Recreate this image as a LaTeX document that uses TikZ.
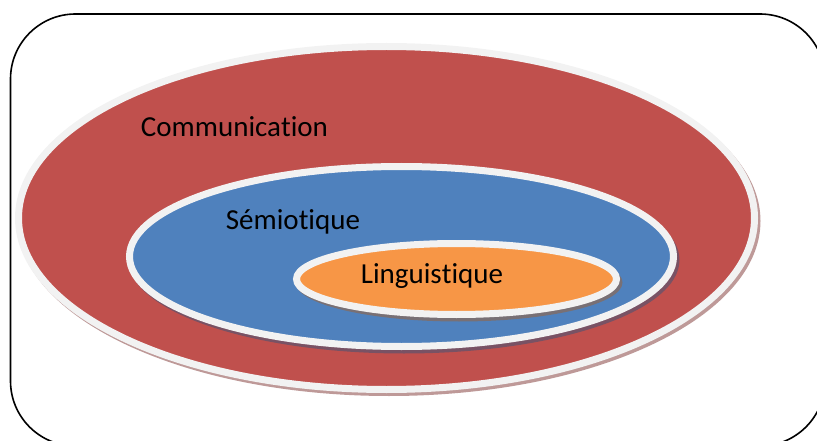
\documentclass[tikz,border=0pt]{standalone}
\usepackage{fontspec}
\setmainfont[RawFeature={-liga;-calt;-clig}]{Carlito}
\definecolor{cred}{HTML}{C0504D}
\definecolor{cblue}{HTML}{4F81BD}
\definecolor{corange}{HTML}{F79646}
\definecolor{crim}{HTML}{F2F2F2}
\tikzset{
  rim/.style={draw=crim, line width=7pt},
  shade/.style={fill=#1!65!black, opacity=0.5},
  lbl/.style={font=\fontsize{29}{34}\selectfont, text=black, inner sep=0pt}
}
\begin{document}
\begin{tikzpicture}[x=1pt,y=-1pt]
\useasboundingbox (0,0) rectangle (817,441);
\draw[line width=1.6pt, rounded corners=65pt] (10.5,14) rectangle (825,446);
% Communication
\fill[shade=cred] (389,221) ellipse [x radius=371.5, y radius=175];
\draw[rim, fill=cred] (386.5,218) ellipse [x radius=368, y radius=171.5];
% Semiotique
\fill[shade=cblue] (404,260) ellipse [x radius=275.5, y radius=93.5];
\draw[rim, fill=cblue] (401.5,256.5) ellipse [x radius=272, y radius=90];
% Linguistique
\fill[shade=corange] (459,282.5) ellipse [x radius=163.5, y radius=39];
\draw[rim, fill=corange] (456.5,279) ellipse [x radius=160, y radius=35.5];
\node[lbl] (comm) at (234.5,127) {Communica\kern0pt tion};
\node[lbl] (semi) at (293,222) {Sémiotique};
\node[lbl] (ling) at (432,276) {Linguis\kern0pt tique};
\end{tikzpicture}
\end{document}
